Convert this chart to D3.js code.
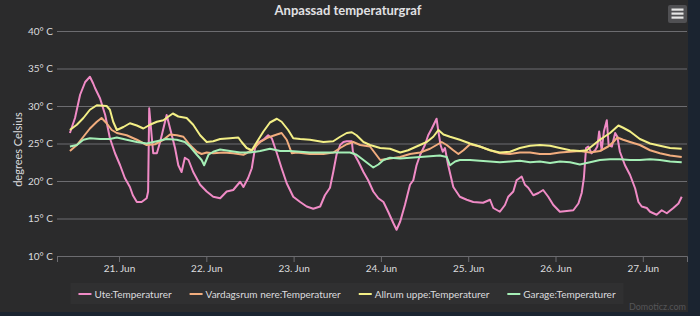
<!DOCTYPE html>
<html>
<head>
<meta charset="utf-8">
<script src="https://cdn.jsdelivr.net/npm/d3@7"></script>
<style>
  body { margin: 0; background: #1b2430; }
  svg { display: block; font-family: Lato, "Open Sans", "DejaVu Sans", sans-serif; }
</style>
</head>
<body>
<div id="container"></div>
<script>
/* CONSTANTS AND GLOBALS */
const width = 700,
  height = 316,
  chartW = 688,
  chartH = 312,
  margin = { top: 31, bottom: 60, left: 57, right: 13 };

// hours since 20 Jun 00:00, temperature in degrees C
const uteData = [
  [10.5,26.4],[11.9,28.4],[13.3,31.5],[14.7,33.2],[16.0,33.9],[16.9,33.0],[17.4,32.4],[18.8,31.0],
  [20.2,28.8],[21.5,25.7],[22.9,23.7],[24.3,22.1],[25.6,20.4],[27.0,19.2],[27.8,18.1],[28.9,17.2],
  [30.2,17.2],[31.6,17.7],[32.0,18.6],[32.3,29.7],[33.4,23.7],[34.4,23.7],[35.3,25.2],[36.2,27.0],
  [37.1,28.8],[39.4,24.4],[40.3,22.1],[41.2,21.2],[42.1,23.1],[43.1,22.8],[44.4,21.2],[46.3,19.5],
  [48.1,18.6],[49.9,17.9],[51.8,17.7],[53.6,18.6],[55.4,18.8],[57.3,19.9],[58.2,19.2],[59.5,20.4],
  [60.5,21.7],[61.4,24.4],[62.2,25.1],[63.7,25.5],[65.0,26.1],[66.0,25.7],[67.4,23.7],[68.7,21.7],
  [70.1,19.7],[71.9,17.9],[73.8,17.2],[75.6,16.6],[77.4,16.3],[79.3,16.6],[80.6,18.1],[82.0,19.1],
  [82.9,21.2],[83.8,23.5],[84.8,24.8],[85.7,25.2],[86.6,25.3],[88.0,25.3],[88.3,23.9],[89.8,22.6],
  [91.2,21.2],[92.5,20.1],[93.9,18.6],[95.3,17.7],[96.7,17.2],[98.0,15.9],[99.4,14.4],[100.3,13.5],
  [101.3,14.6],[102.6,16.8],[104.0,19.5],[104.9,20.1],[105.8,22.1],[106.8,23.5],[108.1,24.8],[109.0,26.1],
  [110.0,27.0],[110.9,27.9],[111.3,28.3],[111.8,26.6],[112.4,24.8],[113.0,23.9],[113.6,24.4],[114.5,22.1],
  [115.9,19.2],[117.7,17.9],[119.6,17.5],[121.4,17.2],[124.1,17.1],[126.0,17.5],[126.9,16.4],[128.7,15.9],
  [130.1,16.8],[131.0,17.9],[132.4,18.6],[133.3,20.1],[134.7,20.6],[135.6,19.5],[136.5,19.1],[137.9,18.1],
  [139.3,18.4],[140.6,18.8],[142.0,17.9],[143.4,16.8],[145.2,15.9],[147.1,16.0],[148.9,16.1],[150.3,17.0],
  [151.2,18.4],[151.8,20.4],[152.4,24.4],[153.0,24.6],[153.9,23.7],[154.9,24.1],[155.5,24.6],[156.0,26.6],
  [156.7,24.1],[157.3,26.6],[158.1,28.1],[158.6,24.8],[159.5,24.6],[160.4,26.4],[161.0,25.9],[161.7,23.9],
  [163.1,22.1],[164.5,20.8],[165.9,19.0],[166.8,17.2],[167.7,16.6],[169.1,16.4],[170.0,15.9],[171.8,15.5],
  [173.2,16.1],[174.6,15.7],[176.4,16.4],[177.8,17.0],[178.7,17.9]
];

const vardagsrumData = [
  [10.5,24.0],[12.4,24.8],[14.2,25.9],[16.0,27.0],[17.9,27.9],[19.2,28.4],[20.6,27.7],[22.0,26.8],
  [23.4,26.4],[26.1,26.1],[28.9,25.5],[31.6,24.8],[33.9,24.9],[36.2,25.5],[38.0,26.2],[39.9,26.1],
  [41.7,25.9],[43.5,24.8],[45.4,23.9],[46.7,23.6],[48.1,23.8],[49.9,23.7],[52.7,23.8],[55.4,23.7],
  [58.2,23.5],[60.5,24.1],[62.8,25.2],[65.0,25.8],[67.4,26.2],[68.7,26.4],[70.1,25.5],[71.5,23.7],
  [72.9,23.8],[76.5,23.6],[80.2,23.6],[82.9,23.8],[84.8,24.4],[86.6,24.9],[88.4,25.2],[90.3,24.8],
  [93.0,24.6],[94.4,23.7],[95.8,22.8],[98.5,23.0],[101.3,23.2],[104.0,23.6],[106.8,23.8],[109.5,24.3],
  [111.3,24.8],[112.7,25.2],[114.1,24.8],[115.9,24.1],[117.3,23.6],[118.7,24.1],[120.5,24.9],[123.2,24.6],
  [126.0,24.1],[128.7,23.7],[131.5,23.6],[134.2,23.8],[137.0,23.8],[139.7,23.6],[142.5,23.6],[145.2,23.8],
  [148.0,23.9],[150.7,24.0],[153.5,23.8],[156.2,24.0],[158.5,24.6],[159.9,25.2],[161.0,25.8],[162.6,25.5],
  [164.5,25.2],[167.2,24.8],[170.0,24.1],[172.7,23.7],[175.5,23.4],[178.7,23.2]
];

const allrumData = [
  [10.5,26.8],[12.4,27.5],[14.2,28.4],[16.0,29.5],[17.9,30.1],[20.6,30.0],[21.5,29.5],[22.4,27.9],
  [23.4,26.8],[25.2,27.2],[27.0,27.7],[28.9,27.4],[30.7,27.0],[32.5,27.5],[34.4,27.9],[36.2,28.1],
  [37.6,28.6],[38.8,29.0],[40.3,28.6],[42.6,28.4],[44.4,27.5],[46.3,26.1],[48.1,25.2],[49.9,25.3],
  [51.8,25.6],[54.5,25.7],[56.8,25.8],[57.7,25.2],[59.1,24.4],[60.5,24.1],[61.9,25.2],[63.7,26.6],
  [65.5,27.8],[67.4,28.3],[68.7,27.9],[70.5,26.8],[71.9,25.7],[73.8,25.6],[76.5,25.5],[80.2,25.2],
  [82.9,25.3],[84.8,25.9],[86.6,26.4],[88.0,26.5],[89.3,26.1],[91.2,25.2],[93.0,24.8],[95.8,24.4],
  [98.5,24.3],[101.3,23.8],[103.5,24.1],[105.8,24.6],[108.6,25.2],[110.4,25.9],[111.8,26.8],[113.2,26.2],
  [115.0,25.9],[117.7,25.5],[120.5,25.0],[123.2,24.6],[126.0,24.1],[128.7,23.8],[131.5,23.9],[134.2,24.4],
  [137.0,24.7],[139.7,24.8],[142.5,24.7],[145.2,24.4],[148.0,24.1],[150.7,24.0],[152.6,24.1],[154.4,24.8],
  [156.2,25.5],[159.0,26.4],[161.3,27.4],[162.6,27.1],[164.5,26.6],[167.2,25.6],[170.0,25.0],[172.7,24.7],
  [175.5,24.4],[178.7,24.3]
];

const garageData = [
  [10.5,24.6],[12.4,24.8],[14.2,25.5],[16.0,25.7],[18.8,25.6],[21.5,25.6],[23.4,25.8],[26.1,25.5],
  [28.9,25.2],[31.6,25.0],[34.4,25.3],[37.1,25.6],[39.9,25.5],[42.1,25.2],[43.5,24.6],[45.4,23.5],
  [46.7,22.8],[47.4,22.1],[48.6,23.5],[49.9,23.9],[51.8,24.2],[54.5,24.0],[57.3,23.8],[60.0,23.8],
  [62.8,24.0],[65.5,24.3],[68.3,24.0],[71.0,24.0],[73.8,23.9],[76.5,23.8],[79.3,23.8],[82.0,23.8],
  [84.8,23.8],[87.5,23.8],[89.3,23.5],[91.2,22.8],[93.9,21.8],[95.3,22.2],[96.7,22.8],[98.5,23.1],
  [101.3,23.0],[104.0,23.1],[106.8,23.2],[109.5,23.3],[112.2,23.4],[114.1,23.2],[115.0,22.1],[116.4,22.6],
  [117.7,22.8],[120.5,22.8],[123.2,22.7],[126.0,22.6],[128.7,22.5],[131.5,22.6],[134.2,22.7],[137.0,22.5],
  [139.7,22.6],[142.5,22.4],[145.2,22.6],[148.0,22.5],[150.7,22.2],[153.5,22.5],[156.2,22.8],[159.0,22.9],
  [161.7,22.9],[164.5,22.8],[167.2,22.8],[170.0,22.9],[172.7,22.8],[175.5,22.6],[178.7,22.5]
];

const seriesNames = ["Ute:Temperaturer", "Vardagsrum nere:Temperaturer", "Allrum uppe:Temperaturer", "Garage:Temperaturer"];
const seriesColors = ["#f08bc6", "#f2ad7e", "#f3ef86", "#a5efb6"];
const yTicks = [10, 15, 20, 25, 30, 35, 40];

const startDay = new Date(2020, 5, 20); // 20 Jun 00:00
const hourToDate = h => new Date(startDay.getTime() + h * 3600 * 1000);

const series = [uteData, vardagsrumData, allrumData, garageData].map((values, i) => ({
  name: seriesNames[i],
  color: seriesColors[i],
  values: values
}));

// create the svg
const svg = d3.select("#container")
  .append("svg")
  .attr("width", width)
  .attr("height", height);

// chart background
svg.append("rect")
  .attr("width", chartW)
  .attr("height", chartH)
  .attr("fill", "#2b2b2c");

// SCALES
const x = d3.scaleTime()
  .domain([hourToDate(6.95), hourToDate(180.15)])
  .range([margin.left, chartW - 1]);

const y = d3.scaleLinear()
  .domain([10, 40])
  .range([chartH - 56, margin.top]);

// y axis with grid lines
const yAxis = svg.append("g")
  .attr("transform", `translate(${margin.left},0)`)
  .call(d3.axisLeft(y)
    .tickValues(yTicks)
    .tickSize(-(chartW - 1 - margin.left))
    .tickPadding(4)
    .tickFormat(d => d + "° C"));
yAxis.select(".domain").remove();
yAxis.selectAll("line").attr("stroke", "#6c6c70");
yAxis.selectAll("text")
  .attr("fill", "#dcdcdf")
  .attr("font-size", 10)
  .attr("font-family", "Lato, sans-serif");

// x axis
const xAxis = svg.append("g")
  .attr("transform", `translate(0,${y(10)})`)
  .call(d3.axisBottom(x)
    .ticks(d3.timeDay.every(1))
    .tickSize(6)
    .tickPadding(3)
    .tickFormat(d3.timeFormat("%-d. %b")));
xAxis.select(".domain").attr("stroke", "#6c6c70");
xAxis.selectAll("line").attr("stroke", "#6c6c70");
xAxis.selectAll("text")
  .attr("fill", "#dcdcdf")
  .attr("font-size", 10)
  .attr("font-family", "Lato, sans-serif");

// y axis title
svg.append("text")
  .attr("transform", `translate(18,${(y(10) + y(40)) / 2 + 6}) rotate(-90)`)
  .attr("text-anchor", "middle")
  .attr("dy", "0.35em")
  .attr("fill", "#dcdcdf")
  .attr("font-size", 11)
  .text("degrees Celsius");

// title
svg.append("text")
  .attr("x", 348)
  .attr("y", 15)
  .attr("text-anchor", "middle")
  .attr("fill", "#e0e0e3")
  .attr("font-size", 13)
  .attr("font-weight", "bold")
  .text("Anpassad temperaturgraf");

// LINES
const line = d3.line()
  .x(d => x(hourToDate(d[0])))
  .y(d => y(d[1]));

svg.selectAll("path.series")
  .data(series)
  .join("path")
  .attr("class", "series")
  .attr("fill", "none")
  .attr("stroke", d => d.color)
  .attr("stroke-width", 2)
  .attr("stroke-linejoin", "round")
  .attr("d", d => line(d.values));

// LEGEND
const legendBox = svg.append("rect")
  .attr("fill", "#303031");
const legend = svg.append("g");
const items = legend.selectAll("g")
  .data(series)
  .join("g");
items.append("line")
  .attr("x1", 0).attr("x2", 13)
  .attr("y1", 0).attr("y2", 0)
  .attr("stroke", d => d.color)
  .attr("stroke-width", 2);
items.append("text")
  .attr("x", 16)
  .attr("dy", "0.35em")
  .attr("fill", "#dcdcdf")
  .attr("font-size", 10)
  .text(d => d.name);

let pos = 0;
items.each(function(d) {
  d.offset = pos;
  pos += 16 + d3.select(this).select("text").node().getComputedTextLength() + 18;
});
const legendW = pos - 18;
const legendX = 347 - legendW / 2;
items.attr("transform", d => `translate(${legendX + d.offset},294)`);
legendBox
  .attr("x", legendX - 8)
  .attr("y", 283)
  .attr("width", legendW + 16)
  .attr("height", 21);

// menu button
svg.append("rect")
  .attr("x", 668).attr("y", 5)
  .attr("width", 19).attr("height", 18)
  .attr("rx", 2)
  .attr("fill", "#505053");
svg.selectAll("rect.bar")
  .data([9.5, 13.5, 17.5])
  .join("rect")
  .attr("class", "bar")
  .attr("x", 671.5).attr("y", d => d - 1)
  .attr("width", 12).attr("height", 2.2)
  .attr("fill", "#e6e6e6");

// credits
svg.append("text")
  .attr("x", 686)
  .attr("y", 310)
  .attr("text-anchor", "end")
  .attr("fill", "#555558")
  .attr("font-size", 9)
  .text("Domoticz.com");
</script>
</body>
</html>
